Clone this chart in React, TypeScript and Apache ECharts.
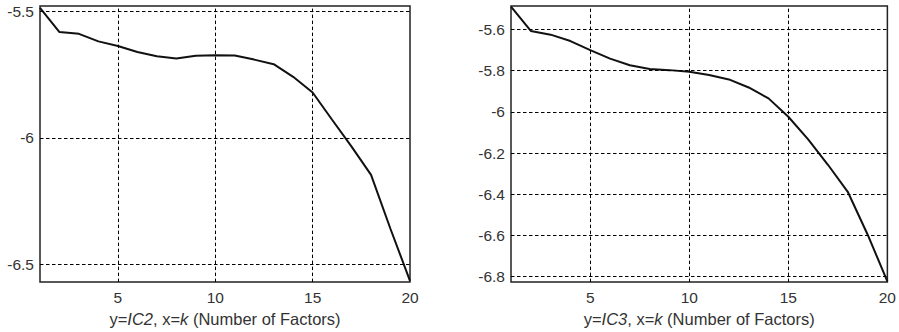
import React, { useEffect, useRef } from "react";
import * as echarts from "echarts";

const kValues = [1, 2, 3, 4, 5, 6, 7, 8, 9, 10, 11, 12, 13, 14, 15, 16, 17, 18, 19, 20];
const ic2Values = [-5.485, -5.581, -5.588, -5.618, -5.636, -5.66, -5.677, -5.686, -5.675, -5.673, -5.674, -5.69, -5.708, -5.758, -5.82, -5.928, -6.034, -6.146, -6.36, -6.565];
const ic3Values = [-5.49, -5.608, -5.626, -5.657, -5.701, -5.742, -5.774, -5.793, -5.798, -5.806, -5.822, -5.843, -5.882, -5.935, -6.024, -6.134, -6.257, -6.388, -6.595, -6.822];
const xTicks = [5, 10, 15, 20];
const xGridLines = [5, 10, 15];
const ic2Ticks = [-5.5, -6, -6.5];
const ic3Ticks = [-5.6, -5.8, -6, -6.2, -6.4, -6.6, -6.8];

const FONT = "'Liberation Sans', Arial, sans-serif";
const TEXT = "#333";

export default function App() {
  const ref = useRef<HTMLDivElement>(null);
  useEffect(() => {
    if (!ref.current) return;
    const chart = echarts.init(ref.current, null, { renderer: "svg" });
    const gridLine = { color: "#000", width: 1, type: [3.5, 2.5] as number[] };
    const mk = (yTicks: number[]) => ({
      silent: true,
      symbol: ["none", "none"],
      label: { show: false },
      lineStyle: gridLine,
      animation: false,
      data: [
        ...xGridLines.map((v) => ({ xAxis: v })),
        ...yTicks.map((v) => ({ yAxis: v })),
      ],
    });
    const xAxisBase = (gridIndex: number, name: string) => ({
      type: "value",
      gridIndex,
      min: 1,
      max: 20,
      axisLine: { show: false },
      axisTick: { show: false },
      splitLine: { show: false },
      axisLabel: {
        customValues: xTicks,
        color: TEXT,
        fontSize: 15.5,
        fontFamily: FONT,
        margin: 7,
      },
      name,
      nameLocation: "middle",
      nameGap: 25,
      nameTextStyle: {
        color: TEXT,
        fontSize: 16.5,
        fontFamily: FONT,
        rich: {
          it: { fontStyle: "italic", color: TEXT, fontSize: 16.5, fontFamily: FONT },
          n: { color: TEXT, fontSize: 16.5, fontFamily: FONT },
        },
      },
    });
    const yAxisBase = (gridIndex: number, min: number, max: number, ticks: number[]) => ({
      type: "value",
      gridIndex,
      min,
      max,
      axisLine: { show: false },
      axisTick: { show: false },
      splitLine: { show: false },
      axisLabel: {
        customValues: ticks,
        color: TEXT,
        fontSize: 15.5,
        fontFamily: FONT,
        margin: 6,
      },
    });
    chart.setOption({
      animation: false,
      backgroundColor: "#fff",
      grid: [
        { left: 40, top: 6, width: 370, height: 277, show: true, borderColor: "#222", borderWidth: 1.5, backgroundColor: "#fff" },
        { left: 511, top: 6, width: 377, height: 277, show: true, borderColor: "#222", borderWidth: 1.5, backgroundColor: "#fff" },
      ],
      xAxis: [
        xAxisBase(0, "{n|y=}{it|IC2}{n|, x=}{it|k}{n| (Number of Factors)}"),
        xAxisBase(1, "{n|y=}{it|IC3}{n|, x=}{it|k}{n| (Number of Factors)}"),
      ],
      yAxis: [
        yAxisBase(0, -6.57, -5.478, ic2Ticks),
        yAxisBase(1, -6.826, -5.487, ic3Ticks),
      ],
      series: [
        {
          type: "line",
          xAxisIndex: 0,
          yAxisIndex: 0,
          data: kValues.map((k, i) => [k, ic2Values[i]]),
          showSymbol: false,
          lineStyle: { color: "#111", width: 2 },
          markLine: mk(ic2Ticks),
          z: 3,
        },
        {
          type: "line",
          xAxisIndex: 1,
          yAxisIndex: 1,
          data: kValues.map((k, i) => [k, ic3Values[i]]),
          showSymbol: false,
          lineStyle: { color: "#111", width: 2 },
          markLine: mk(ic3Ticks),
          z: 3,
        },
      ],
    });
    return () => chart.dispose();
  }, []);
  return (
    <div
      ref={ref}
      style={{ position: "absolute", left: 0, top: 0, width: 899, height: 332 }}
    />
  );
}
